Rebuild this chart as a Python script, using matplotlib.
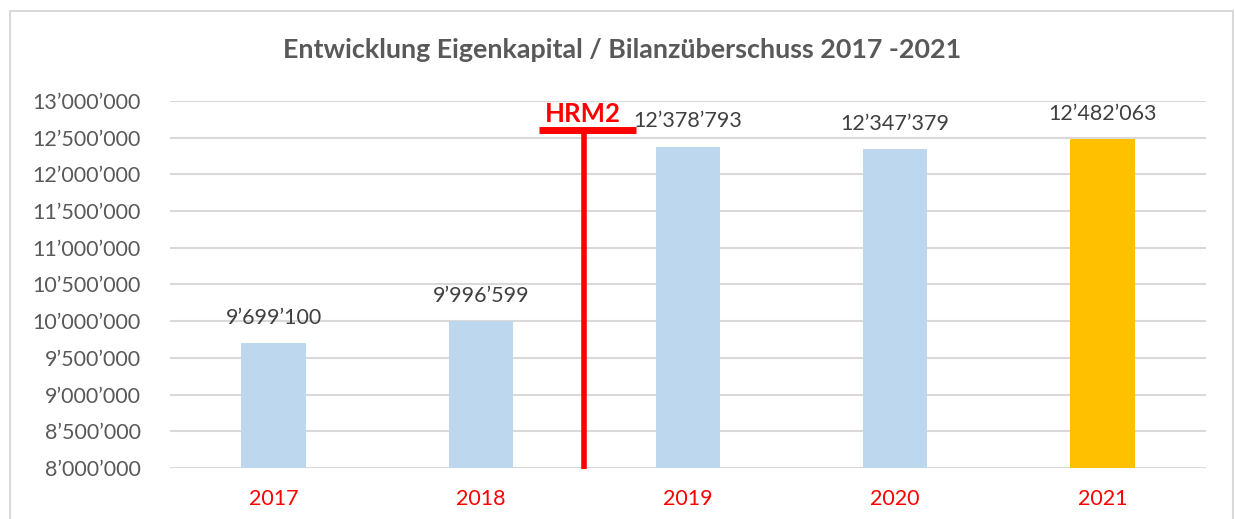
import numpy as np
import matplotlib.pyplot as plt
from matplotlib.patches import Rectangle

years = ['2017', '2018', '2019', '2020', '2021']
values = [9699100, 9996599, 12378793, 12347379, 12482063]
bar_colors = ['#BDD7EE', '#BDD7EE', '#BDD7EE', '#BDD7EE', '#FFC000']
yticks = np.arange(8000000, 13000001, 500000)

# HRM2 marker between 2018 and 2019
hrm_x = 1.5
hrm_top = 12605000

plt.rcParams['font.family'] = ['Lato', 'DejaVu Sans']


def fmt(v):
    return '{:,}'.format(int(v)).replace(',', '\u2019')


fig = plt.figure(figsize=(12.35, 5.19), dpi=100)
W, H = 1235, 519
ax = fig.add_axes([170 / W, 1 - 468 / H, (1206 - 170) / W, (468 - 101) / H])

x = np.arange(len(years))
ax.bar(x, values, width=0.31, color=bar_colors, zorder=2)
ax.set_xlim(-0.5, len(years) - 0.5)
ax.set_ylim(8000000, 13000000)
ax.set_yticks(yticks)
ax.set_yticklabels([fmt(v) for v in yticks], fontsize=15.5, color='#595959')
ax.set_xticks(x)
ax.set_xticklabels(years, fontsize=15.5, color='red')
ax.tick_params(axis='both', length=0)
ax.tick_params(axis='y', pad=21)
ax.tick_params(axis='x', pad=15)
ax.grid(axis='y', color='#d9d9d9', linewidth=1.5, zorder=0)
for s in ax.spines.values():
    s.set_visible(False)

for xi, v in zip(x, values):
    ax.annotate(fmt(v), (xi, v), xytext=(0, 11), textcoords='offset points',
                ha='center', va='bottom', fontsize=15.5, color='#404040')

ax.plot([hrm_x, hrm_x], [7990000, hrm_top], color='red', linewidth=4,
        zorder=3, clip_on=False, solid_capstyle='butt')
ax.plot([hrm_x - 0.22, hrm_x + 0.25], [hrm_top, hrm_top], color='red',
        linewidth=5, zorder=3, solid_capstyle='butt')
ax.text(hrm_x - 0.01, hrm_top + 50000, 'HRM2', color='red', fontsize=18.5,
        fontweight='bold', ha='center', va='bottom')

fig.text(622 / W, 1 - 50 / H, 'Entwicklung Eigenkapital / Bilanz\u00fcberschuss 2017 -2021',
         ha='center', va='center', fontsize=19.4, fontweight='bold', color='#595959')

fig.patches.append(Rectangle((10 / W, -0.1), (1233 - 10) / W, 1.1 - 11 / H,
                             transform=fig.transFigure, fill=False,
                             edgecolor='#d9d9d9', linewidth=1.5))

fig.savefig('out.png', dpi=100)
